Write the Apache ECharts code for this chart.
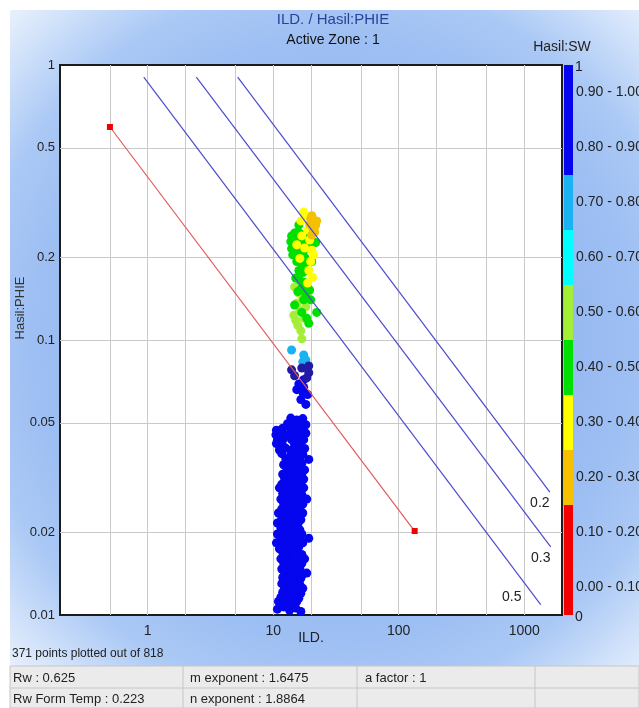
<!DOCTYPE html>
<html><head><meta charset="utf-8">
<script src="https://cdn.jsdelivr.net/npm/echarts@6/dist/echarts.min.js"></script>
<style>html,body{margin:0;padding:0;background:#fff}#c{width:639px;height:708px}</style>
</head><body><div id="c"></div>
<script>
const FONT = '"Liberation Sans", Arial, sans-serif';

// ---- axis tick values ----
const xLabelValues = [1, 10, 100, 1000];
const xGridValues = [0.5, 1, 2, 5, 10, 20, 50, 100, 200, 500, 1000];
const yLabelValues = [0.01, 0.02, 0.05, 0.1, 0.2, 0.5, 1];
const yGridValues = [0.02, 0.05, 0.1, 0.2, 0.5];
const xRange = [0.2, 2000];
const yRange = [0.01, 1];

// ---- SW colour classes ----
const swBins = [[0, 0.1], [0.1, 0.2], [0.2, 0.3], [0.3, 0.4], [0.4, 0.5], [0.5, 0.6], [0.6, 0.7], [0.7, 0.8], [0.8, 0.9], [0.9, 1.0]];
const swLabels = ['0.00 - 0.10', '0.10 - 0.20', '0.20 - 0.30', '0.30 - 0.40', '0.40 - 0.50', '0.50 - 0.60', '0.60 - 0.70', '0.70 - 0.80', '0.80 - 0.90', '0.90 - 1.00'];
const swColors = ['#f20000', '#f20000', '#f5c000', '#ffff00', '#00e000', '#a4ee38', '#00ffff', '#1ab2f0', '#0505ee', '#0505ee'];
const overRangeColor = '#221aa2';

// ---- points [ILD, PHIE] grouped by SW ----
const pointsSw25 = [[19.9,0.276],[21.0,0.269],[21.8,0.262],[20.6,0.256],[19.5,0.264],[21.4,0.247],[20.3,0.241],[22.2,0.271],[20.3,0.283]];
const pointsSw35 = [[17.5,0.292],[18.1,0.283],[16.6,0.271],[18.8,0.251],[19.5,0.231],[20.3,0.212],[19.9,0.193],[19.2,0.179],[17.8,0.216],[16.3,0.198],[20.6,0.169],[15.4,0.222],[16.9,0.239],[21.0,0.204],[18.8,0.161]];
const pointsSw45 = [[14.0,0.239],[14.8,0.245],[15.7,0.247],[16.6,0.243],[17.5,0.239],[18.5,0.235],[13.8,0.228],[14.6,0.231],[15.4,0.231],[16.3,0.229],[17.2,0.228],[18.2,0.224],[14.0,0.215],[14.8,0.219],[15.7,0.217],[16.6,0.215],[17.5,0.212],[14.3,0.204],[15.1,0.205],[16.0,0.204],[16.9,0.202],[17.8,0.200],[16.0,0.262],[21.8,0.226],[19.2,0.222],[15.4,0.193],[16.6,0.191],[17.8,0.187],[16.0,0.179],[17.2,0.176],[18.5,0.179],[15.1,0.168],[16.3,0.165],[17.8,0.162],[16.9,0.155],[15.7,0.150],[18.2,0.146],[19.5,0.152],[20.3,0.193],[19.9,0.140],[17.5,0.140],[22.2,0.126],[19.2,0.115],[14.8,0.134],[16.9,0.126],[18.5,0.120]];
const pointsSw55 = [[14.8,0.156],[16.0,0.148],[17.2,0.142],[15.4,0.136],[18.2,0.132],[16.3,0.128],[14.6,0.123],[17.5,0.120],[15.7,0.113],[16.9,0.101],[16.6,0.108],[15.1,0.118]];
const pointsSw75 = [[14.0,0.0920],[17.5,0.0882],[18.2,0.0847],[17.2,0.0833]];
const pointsSwOver1 = [[14.0,0.0779],[16.9,0.0791],[19.2,0.0805],[19.2,0.0760],[14.8,0.0741],[18.5,0.0728]];
const pointsSw95 = [
[17.5,0.0717],[15.4,0.0660],[17.5,0.0672],[16.6,0.0607],[18.2,0.0583],[18.8,0.0633],[16.0,0.0692],[17.2,0.0645],
[13.8,0.0520],[15.4,0.0512],[17.2,0.0518],
[13.0,0.0496],[14.6,0.0490],[16.3,0.0500],[18.2,0.0492],
[10.6,0.0470],[11.9,0.0478],[13.8,0.0472],[15.4,0.0476],[17.2,0.0470],
[10.5,0.0452],[11.7,0.0458],[13.0,0.0450],[14.8,0.0456],[16.6,0.0452],[18.2,0.0458],
[10.8,0.0432],[12.1,0.0438],[14.0,0.0434],[15.7,0.0440],[17.5,0.0434],
[10.6,0.0420],[11.9,0.0414],[14.8,0.0418],[16.6,0.0422],
[11.2,0.0398],[12.6,0.0404],[14.3,0.0400],[16.0,0.0396],[17.8,0.0403],
[11.7,0.0386],[13.8,0.0382],[15.4,0.0388],[17.2,0.0384],
[12.6,0.0370],[14.6,0.0366],[16.3,0.0372],[19.2,0.0368],
[12.1,0.0352],[13.5,0.0357],[15.1,0.0352],[16.9,0.0356],
[12.8,0.0342],[14.3,0.0338],[16.0,0.0341],[17.8,0.0337],
[11.9,0.0325],[13.3,0.0328],[15.1,0.0324],[16.9,0.0327],
[12.3,0.0315],[14.0,0.0311],[15.7,0.0314],[17.5,0.0312],
[11.7,0.0299],[13.0,0.0302],[14.8,0.0298],[16.6,0.0301],
[11.2,0.0290],[12.6,0.0286],[14.0,0.0289],[15.7,0.0287],[17.5,0.0290],
[11.9,0.0277],[13.5,0.0275],[15.1,0.0278],[16.9,0.0274],
[11.5,0.0264],[12.8,0.0267],[14.3,0.0263],[16.0,0.0266],[18.5,0.0264],
[12.1,0.0255],[13.8,0.0252],[15.4,0.0256],[17.2,0.0253],
[11.7,0.0243],[13.0,0.0246],[14.6,0.0242],[16.3,0.0245],
[11.0,0.0235],[12.3,0.0232],[13.8,0.0236],[15.4,0.0233],[17.2,0.0235],
[11.7,0.0225],[13.3,0.0223],[14.8,0.0226],[16.6,0.0222],
[10.8,0.0216],[12.1,0.0213],[13.8,0.0217],[15.7,0.0214],
[11.5,0.0207],[12.8,0.0205],[14.3,0.0208],[16.3,0.0204],
[10.8,0.0197],[12.1,0.0199],[13.5,0.0196],[15.1,0.0200],[16.9,0.0197],
[11.5,0.0191],[12.8,0.0188],[14.6,0.0192],[16.3,0.0189],[19.2,0.0190],
[10.6,0.0183],[12.1,0.0181],[13.8,0.0184],[15.4,0.0180],[17.2,0.0183],
[11.2,0.0174],[12.8,0.0176],[14.3,0.0173],[16.0,0.0177],
[11.9,0.0169],[13.3,0.0167],[15.1,0.0170],[16.9,0.0166],
[11.5,0.0160],[12.8,0.0162],[14.3,0.0159],[16.0,0.0163],[17.8,0.0160],
[12.1,0.0155],[13.5,0.0153],[15.1,0.0156],[16.9,0.0154],
[11.7,0.0147],[13.0,0.0149],[14.6,0.0146],[16.3,0.0148],
[12.3,0.0143],[13.8,0.0141],[15.4,0.0143],[17.2,0.0141],[18.5,0.0142],
[11.9,0.0137],[13.3,0.0135],[14.8,0.0138],[16.6,0.0136],
[11.7,0.0130],[13.0,0.0132],[14.6,0.0131],[16.3,0.0129],
[12.3,0.0126],[13.8,0.0124],[15.4,0.0126],[17.2,0.0125],
[11.9,0.0121],[13.3,0.0119],[14.8,0.0121],[16.6,0.0120],
[11.5,0.0116],[12.8,0.0114],[14.3,0.0116],[16.0,0.0115],
[11.0,0.0112],[12.3,0.0110],[13.8,0.0111],[15.4,0.0112],
[10.8,0.0105],[12.1,0.0107],[13.5,0.0104],[15.1,0.0106],[16.6,0.0103]
];

// ---- model lines (end points) ----
const lineSw100 = [[0.5, 0.595], [134, 0.0202]];
const lineSw50 = [[0.93, 0.904], [1353, 0.0109]];
const lineSw30 = [[2.44, 0.904], [1626, 0.0177]];
const lineSw20 = [[5.21, 0.904], [1600, 0.028]];

const scatterData = [].concat(
  pointsSw95.map(p => [p[0], p[1], 0.95]),
  pointsSw75.map(p => [p[0], p[1], 0.75]),
  pointsSw55.map(p => [p[0], p[1], 0.55]),
  pointsSw45.map(p => [p[0], p[1], 0.45]),
  pointsSw35.map(p => [p[0], p[1], 0.35]),
  pointsSw25.map(p => [p[0], p[1], 0.25])
);

function fmtPow(v) { return String(parseFloat(Math.pow(10, v).toPrecision(4))); }

const chart = echarts.init(document.getElementById('c'), null, {renderer: 'canvas'});

function blueLine(data, lbl, off) {
  return {
    type: 'line', xAxisIndex: 0, yAxisIndex: 0, data: data, symbol: 'none', silent: true, z: 3,
    lineStyle: {color: '#4c4cd0', width: 1.2},
    markPoint: {
      symbol: 'circle', symbolSize: 0, silent: true, animation: false,
      data: [{coord: data[1], label: {show: true, formatter: lbl, offset: off, color: '#222', fontSize: 14, fontFamily: FONT}}]
    }
  };
}

const option = {
  animation: false,
  backgroundColor: '#ffffff',
  grid: {left: 60, top: 65, width: 502, height: 550, show: true, backgroundColor: '#ffffff', borderColor: '#1c1c1c', borderWidth: 2, containLabel: false, outerBoundsMode: 'none'},
  xAxis: [
    {type: 'log', logBase: 10, min: xRange[0], max: xRange[1], show: false, position: 'bottom'},
    {type: 'value', min: Math.log10(xRange[0]), max: Math.log10(xRange[1]), position: 'bottom',
     axisLine: {show: false}, axisTick: {show: false, customValues: xGridValues.map(Math.log10)},
     splitLine: {show: true, lineStyle: {color: '#c9c9c9', width: 1}},
     axisLabel: {customValues: xLabelValues.map(Math.log10), formatter: fmtPow, fontSize: 14, color: '#222', margin: 9, fontFamily: FONT},
     name: 'ILD.', nameLocation: 'middle', nameGap: 16, nameMoveOverlap: false, nameTextStyle: {fontSize: 14, color: '#222', fontFamily: FONT}}
  ],
  yAxis: [
    {type: 'log', logBase: 10, min: yRange[0], max: yRange[1], show: false, position: 'left'},
    {type: 'value', min: Math.log10(yRange[0]), max: Math.log10(yRange[1]), position: 'left',
     axisLine: {show: false}, axisTick: {show: false, customValues: yGridValues.map(Math.log10)},
     splitLine: {show: true, lineStyle: {color: '#c9c9c9', width: 1}},
     axisLabel: {customValues: yLabelValues.map(Math.log10), formatter: fmtPow, fontSize: 13, color: '#222', margin: 5, fontFamily: FONT}}
  ],
  visualMap: {
    type: 'piecewise', seriesIndex: 0, dimension: 2, orient: 'vertical', align: 'left',
    left: 564, top: 65, itemWidth: 9, itemHeight: 55, itemGap: 0, itemSymbol: 'rect',
    textGap: 3, showLabel: true, hoverLink: false, padding: 0,
    textStyle: {fontSize: 14, color: '#222', fontFamily: FONT},
    pieces: swBins.map((b, i) => ({min: b[0], max: b[1], label: swLabels[i], color: swColors[i]}))
  },
  series: [
    {type: 'scatter', xAxisIndex: 0, yAxisIndex: 0, data: scatterData, symbolSize: 9, silent: true, z: 2, itemStyle: {opacity: 1}},
    {type: 'scatter', xAxisIndex: 0, yAxisIndex: 0, data: pointsSwOver1, symbolSize: 9, silent: true, z: 2, itemStyle: {opacity: 1, color: overRangeColor}},
    {type: 'line', xAxisIndex: 0, yAxisIndex: 0, data: lineSw100, symbol: 'rect', symbolSize: 6, showSymbol: true, silent: true, z: 3,
     lineStyle: {color: '#e25a5a', width: 1.2}, itemStyle: {color: '#f00000'}},
    blueLine(lineSw20, '0.2', [-10, 11]),
    blueLine(lineSw30, '0.3', [-10, 11]),
    blueLine(lineSw50, '0.5', [-29, -8])
  ],
  graphic: {elements: [
    {type: 'rect', z: -100, shape: {x: 10, y: 10, width: 629, height: 698},
     style: {fill: new echarts.graphic.RadialGradient(333, 340, 500, [
       {offset: 0, color: '#7aa4ec'}, {offset: 0.6, color: '#9ebff3'}, {offset: 0.72, color: '#abc9f5'},
       {offset: 0.86, color: '#d6e5fb'}, {offset: 1, color: '#ffffff'}], true)}},
    {type: 'text', x: 333, y: 20, z: 10, style: {text: 'ILD. / Hasil:PHIE', font: '15px ' + FONT, fill: '#26439a', align: 'center', verticalAlign: 'middle'}},
    {type: 'text', x: 333, y: 40, z: 10, style: {text: 'Active Zone : 1', font: '14px ' + FONT, fill: '#111', align: 'center', verticalAlign: 'middle'}},
    {type: 'text', x: 562, y: 47, z: 10, style: {text: 'Hasil:SW', font: '14px ' + FONT, fill: '#222', align: 'center', verticalAlign: 'middle'}},
    {type: 'text', x: 575, y: 67, z: 10, style: {text: '1', font: '14px ' + FONT, fill: '#222', align: 'left', verticalAlign: 'middle'}},
    {type: 'text', x: 575, y: 617, z: 10, style: {text: '0', font: '14px ' + FONT, fill: '#222', align: 'left', verticalAlign: 'middle'}},
    {type: 'text', x: 20, y: 308, z: 10, rotation: Math.PI / 2, style: {text: 'Hasil:PHIE', font: '13px ' + FONT, fill: '#333', align: 'center', verticalAlign: 'middle'}},
    {type: 'text', x: 12, y: 654, z: 10, style: {text: '371 points plotted out of 818', font: '12px ' + FONT, fill: '#222', align: 'left', verticalAlign: 'middle'}},
    {type: 'rect', z: 5, shape: {x: 10, y: 666, width: 629, height: 42}, style: {fill: '#ebebeb', stroke: '#c6c6c6', lineWidth: 1}},
    {type: 'line', z: 6, shape: {x1: 10, y1: 688, x2: 639, y2: 688}, style: {stroke: '#c6c6c6', lineWidth: 1}},
    {type: 'line', z: 6, shape: {x1: 183, y1: 666, x2: 183, y2: 708}, style: {stroke: '#c6c6c6', lineWidth: 1}},
    {type: 'line', z: 6, shape: {x1: 357, y1: 666, x2: 357, y2: 708}, style: {stroke: '#c6c6c6', lineWidth: 1}},
    {type: 'line', z: 6, shape: {x1: 535, y1: 666, x2: 535, y2: 708}, style: {stroke: '#c6c6c6', lineWidth: 1}},
    {type: 'text', x: 13, y: 678, z: 10, style: {text: 'Rw : 0.625', font: '13px ' + FONT, fill: '#222', align: 'left', verticalAlign: 'middle'}},
    {type: 'text', x: 190, y: 678, z: 10, style: {text: 'm exponent : 1.6475', font: '13px ' + FONT, fill: '#222', align: 'left', verticalAlign: 'middle'}},
    {type: 'text', x: 365, y: 678, z: 10, style: {text: 'a factor : 1', font: '13px ' + FONT, fill: '#222', align: 'left', verticalAlign: 'middle'}},
    {type: 'text', x: 13, y: 699, z: 10, style: {text: 'Rw Form Temp : 0.223', font: '13px ' + FONT, fill: '#222', align: 'left', verticalAlign: 'middle'}},
    {type: 'text', x: 190, y: 699, z: 10, style: {text: 'n exponent : 1.8864', font: '13px ' + FONT, fill: '#222', align: 'left', verticalAlign: 'middle'}}
  ]}
};
chart.setOption(option);
</script>
</body></html>
